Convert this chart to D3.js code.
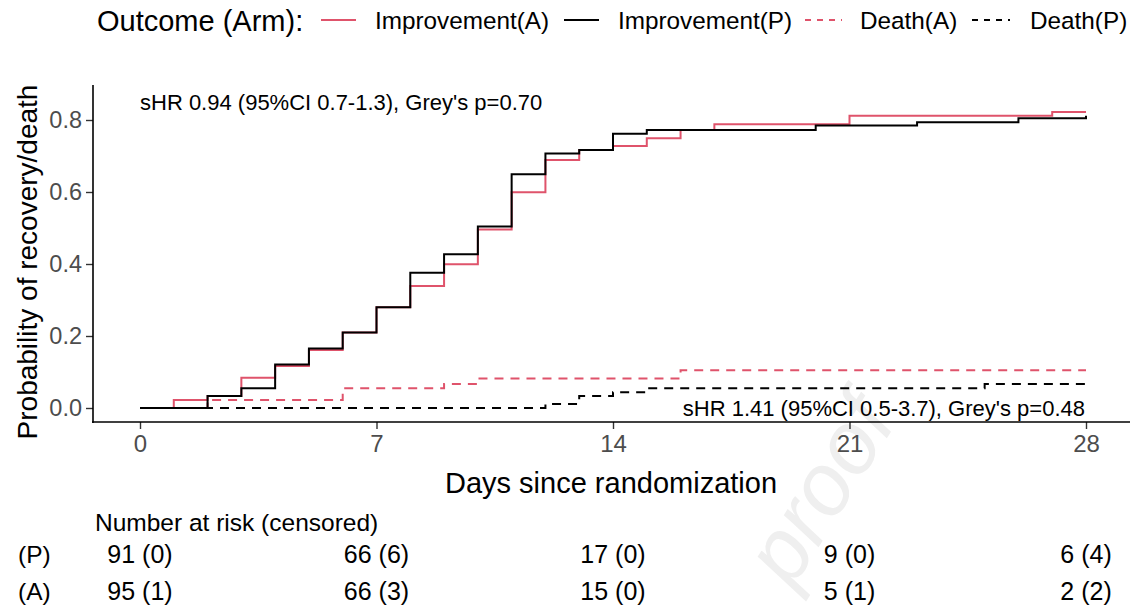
<!DOCTYPE html>
<html>
<head>
<meta charset="utf-8">
<script src="https://cdn.jsdelivr.net/npm/d3@7"></script>
<style>
  html, body { margin: 0; padding: 0; background: #fff; }
  svg { display: block; font-family: "Liberation Sans", Arial, sans-serif; }
</style>
</head>
<body>
<svg id="chart" width="1138" height="611"></svg>
<script>
// ---------------- data ----------------
const impA_days = [0, 1, 2, 3, 4, 5, 6, 7, 8, 9, 10, 11, 12, 13, 14, 15, 16, 17, 21, 27, 28];
const impA_vals = [0, 0.022, 0.033, 0.084, 0.117, 0.161, 0.21, 0.28, 0.339, 0.399, 0.496, 0.599, 0.689, 0.717, 0.728, 0.749, 0.772, 0.788, 0.812, 0.822, 0.822];

const impP_days = [0, 2, 3, 4, 5, 6, 7, 8, 9, 10, 11, 12, 13, 14, 15, 20, 23, 26, 28];
const impP_vals = [0, 0.033, 0.055, 0.121, 0.165, 0.21, 0.28, 0.376, 0.427, 0.504, 0.649, 0.707, 0.717, 0.762, 0.772, 0.785, 0.794, 0.805, 0.812];

const deathA_days = [0, 2, 6, 9, 10, 16, 28];
const deathA_vals = [0, 0.022, 0.055, 0.067, 0.082, 0.105, 0.105];

const deathP_days = [0, 12, 13, 14, 15, 25, 28];
const deathP_vals = [0, 0.011, 0.033, 0.044, 0.055, 0.067, 0.067];

const xTicks = [0, 7, 14, 21, 28];
const yTicks = [0, 0.2, 0.4, 0.6, 0.8];

const riskTimes = [0, 7, 14, 21, 28];
const riskP = ["91 (0)", "66 (6)", "17 (0)", "9 (0)", "6 (4)"];
const riskA = ["95 (1)", "66 (3)", "15 (0)", "5 (1)", "2 (2)"];

const legendLabels = ["Improvement(A)", "Improvement(P)", "Death(A)", "Death(P)"];
const annTop = "sHR 0.94 (95%CI 0.7-1.3), Grey's p=0.70";
const annBottom = "sHR 1.41 (95%CI 0.5-3.7), Grey's p=0.48";

// ---------------- styles ----------------
const RED = "#DF536B", BLACK = "#000000";
const seriesDefs = [
  {days: impA_days, vals: impA_vals, color: RED, dash: null},
  {days: impP_days, vals: impP_vals, color: BLACK, dash: null},
  {days: deathA_days, vals: deathA_vals, color: RED, dash: "9,7"},
  {days: deathP_days, vals: deathP_vals, color: BLACK, dash: "9,7"}
];

const svg = d3.select("#chart");

// watermark
svg.append("text")
  .attr("transform", "translate(845,505) rotate(-58)")
  .attr("text-anchor", "middle")
  .attr("font-size", 88)
  .attr("font-style", "italic")
  .attr("fill", "#efefef")
  .text("proof");

// scales
const x = d3.scaleLinear().domain([0, 28]).range([140, 1086]);
const y = d3.scaleLinear().domain([0, 0.8]).range([408, 120]);

const axisLeftX = 93, axisBottomY = 422, axisTopY = 85, axisRightX = 1130;

// axes
const yAxis = d3.axisLeft(y).tickValues(yTicks).tickFormat(d3.format(".1f")).tickSize(7).tickPadding(4);
const yg = svg.append("g").attr("transform", `translate(${axisLeftX},0)`).call(yAxis);
yg.select(".domain").remove();
yg.append("line").attr("x1", 0).attr("x2", 0).attr("y1", axisTopY).attr("y2", axisBottomY + 1)
  .attr("stroke", "#000").attr("stroke-width", 1.6);
yg.selectAll(".tick line").attr("stroke", "#333").attr("stroke-width", 1.4);
yg.selectAll(".tick text").attr("font-size", 23.5).attr("fill", "#4d4d4d")
  .attr("font-family", "Liberation Sans, Arial, sans-serif");

const xAxis = d3.axisBottom(x).tickValues(xTicks).tickFormat(d3.format("d")).tickSize(7).tickPadding(6);
const xg = svg.append("g").attr("transform", `translate(0,${axisBottomY})`).call(xAxis);
xg.select(".domain").remove();
xg.append("line").attr("x1", axisLeftX - 1).attr("x2", axisRightX).attr("y1", 0).attr("y2", 0)
  .attr("stroke", "#000").attr("stroke-width", 1.6);
xg.selectAll(".tick line").attr("stroke", "#333").attr("stroke-width", 1.4);
xg.selectAll(".tick text").attr("font-size", 24).attr("fill", "#4d4d4d")
  .attr("font-family", "Liberation Sans, Arial, sans-serif");

// axis titles
svg.append("text").attr("x", 611).attr("y", 493).attr("text-anchor", "middle")
  .attr("font-size", 29).attr("fill", "#000").text("Days since randomization");
svg.append("text").attr("transform", "translate(37,262) rotate(-90)").attr("text-anchor", "middle")
  .attr("font-size", 28).attr("fill", "#000").text("Probability of recovery/death");

// step lines
const line = d3.line().curve(d3.curveStepAfter).x(d => x(d[0])).y(d => y(d[1]));
[2, 3, 0, 1].forEach(i => {
  const s = seriesDefs[i];
  const pts = s.days.map((d, k) => [d, s.vals[k]]);
  svg.append("path").attr("d", line(pts)).attr("fill", "none")
    .attr("stroke", s.color).attr("stroke-width", 2)
    .attr("stroke-dasharray", s.dash);
});

// annotations
svg.append("text").attr("x", 140).attr("y", 110).attr("font-size", 22).attr("fill", "#000").text(annTop);
svg.append("text").attr("x", 1085).attr("y", 416).attr("text-anchor", "end")
  .attr("font-size", 22).attr("fill", "#000").text(annBottom);

// legend
const lg = svg.append("g");
lg.append("text").attr("x", 97).attr("y", 31).attr("font-size", 29).attr("fill", "#000").text("Outcome (Arm):");
const legPos = [
  {x1: 321, x2: 356, tx: 375},
  {x1: 564, x2: 599, tx: 618},
  {x1: 805, x2: 842, tx: 860},
  {x1: 972, x2: 1010, tx: 1030}
];
legendLabels.forEach((lab, i) => {
  const s = seriesDefs[i], p = legPos[i];
  lg.append("line").attr("x1", p.x1).attr("x2", p.x2).attr("y1", 20).attr("y2", 20)
    .attr("stroke", s.color).attr("stroke-width", 2)
    .attr("stroke-dasharray", s.dash ? "6,6" : null);
  lg.append("text").attr("x", p.tx).attr("y", 29).attr("font-size", 24.3).attr("fill", "#000").text(lab);
});

// risk table
svg.append("text").attr("x", 95).attr("y", 531).attr("font-size", 24.5).attr("fill", "#000")
  .text("Number at risk (censored)");
svg.append("text").attr("x", 18).attr("y", 563).attr("font-size", 24.5).attr("fill", "#000").text("(P)");
svg.append("text").attr("x", 18).attr("y", 600).attr("font-size", 24.5).attr("fill", "#000").text("(A)");
riskTimes.forEach((t, i) => {
  svg.append("text").attr("x", x(t)).attr("y", 563).attr("text-anchor", "middle")
    .attr("font-size", 25).attr("fill", "#000").text(riskP[i]);
  svg.append("text").attr("x", x(t)).attr("y", 600).attr("text-anchor", "middle")
    .attr("font-size", 25).attr("fill", "#000").text(riskA[i]);
});
</script>
</body>
</html>
